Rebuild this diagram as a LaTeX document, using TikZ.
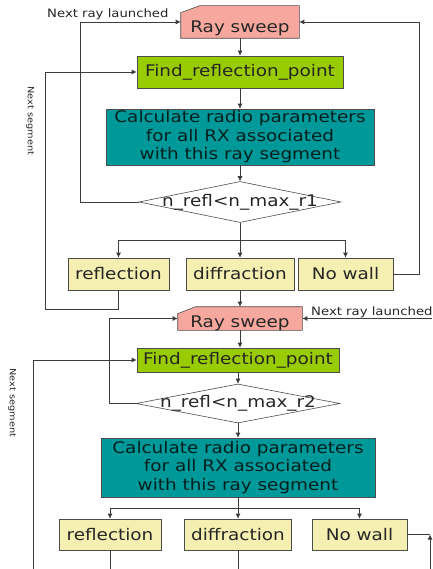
\documentclass[tikz,border=0pt]{standalone}
\usepackage{fontspec}
\newfontfamily\boxfont[FakeStretch=1.15]{DejaVu Sans}
\usetikzlibrary{shapes.geometric,arrows.meta,backgrounds}
\definecolor{raypink}{RGB}{246,168,158}
\definecolor{findgreen}{RGB}{153,204,0}
\definecolor{calcteal}{RGB}{0,153,153}
\definecolor{wallyellow}{RGB}{245,240,178}
\definecolor{linegray}{RGB}{60,60,60}

\begin{document}
\begin{tikzpicture}[x=1pt, y=-1pt,
    box/.style={draw=black!70, line width=0.6pt, inner sep=0pt, text=black!85, font=\boxfont\fontsize{16}{18.5}\selectfont},
    ray/.style={box, draw=none},
    find/.style={box, fill=findgreen},
    calc/.style={box, fill=calcteal, align=center, text=black!80!calcteal},
    wall/.style={box, fill=wallyellow},
    cond/.style={box, diamond, fill=white},
    condtext/.style={inner sep=0pt, text=black!85, font=\boxfont\fontsize{16}{18.5}\selectfont},
    note/.style={inner sep=0pt, text=black!85, font=\boxfont\fontsize{11.5}{13}\selectfont},
    side/.style={inner sep=0pt, text=black!85, rotate=-90, font=\boxfont\fontsize{8.5}{10}\selectfont},
    link/.style={draw=linegray, line width=0.7pt},
    arr/.style={link, -{Latex[length=5pt,width=5pt]}}]
    \useasboundingbox (0,0) rectangle (432,569);

    \node[ray, minimum width=118pt, minimum height=32pt, text height=22pt, text depth=0pt] (rs1) at (240,22) {Ray sweep};
    \node[find, minimum width=206pt, minimum height=32pt] (find1) at (240,72) {Find\_reflection\_point};
    \node[calc, minimum width=268pt, minimum height=56pt] (calc1) at (240,137) {Calculate radio parameters\\for all RX associated\\with this ray segment};
    \node[cond, minimum width=202pt, minimum height=41pt, label={[condtext]center:n\_refl<n\_max\_r1}] (d1) at (240,202) {};
    \node[wall, minimum width=101pt, minimum height=32pt] (rf1) at (118.5,274) {reflection};
    \node[wall, minimum width=108pt, minimum height=32pt] (df1) at (240,274) {diffraction};
    \node[wall, minimum width=95pt, minimum height=32pt] (nw1) at (345.5,274) {No wall};

    \node[ray, minimum width=124pt, minimum height=23pt, text height=17pt, text depth=0pt] (rs2) at (240,318.5) {Ray sweep};
    \node[find, minimum width=202pt, minimum height=24pt] (find2) at (238,360) {Find\_reflection\_point};
    \node[cond, minimum width=204pt, minimum height=39pt, label={[condtext]center:n\_refl<n\_max\_r2}] (d2) at (238,403.5) {};
    \node[calc, minimum width=274pt, minimum height=59pt] (calc2) at (238,467.5) {Calculate radio parameters\\for all RX associated\\with this ray segment};
    \node[wall, minimum width=102pt, minimum height=31pt] (rf2) at (110,534.5) {reflection};
    \node[wall, minimum width=107pt, minimum height=31pt] (df2) at (238,534.5) {diffraction};
    \node[wall, minimum width=95pt, minimum height=31pt] (nw2) at (359.5,534.5) {No wall};

    \begin{pgfonlayer}{background}
        \filldraw[fill=raypink, draw=black!70, line width=0.6pt] (rs1.south west) -- ([yshift=-7pt]rs1.north west) -- ([xshift=19pt]rs1.north west) -- (rs1.north east) -- (rs1.south east) -- cycle;
        \filldraw[fill=raypink, draw=black!70, line width=0.6pt] (rs2.south west) -- ([yshift=-7pt]rs2.north west) -- ([xshift=18pt]rs2.north west) -- (rs2.north east) -- (rs2.south east) -- cycle;
    \end{pgfonlayer}

    \node[note, anchor=base west] (nr1) at (47,17.5) {Next ray launched};
    \node[note, anchor=base west] (nr2) at (311,315.5) {Next ray launched};
    \node[side] (ns1) at (30,121) {Next segment};
    \node[side] (ns2) at (12,403) {Next segment};

    \coordinate (j1) at (240,240);
    \coordinate (j2) at (238,508);
    \coordinate (e2) at (432,318.5);
    \coordinate (b1) at (33,569);
    \coordinate (b2) at (430,569);

    \draw[arr] (rs1) -- (find1);
    \draw[arr] (find1) -- (calc1);
    \draw[arr] (calc1) -- (d1);
    \draw[link] (d1) -- (j1);
    \draw[arr] (j1) -| (rf1);
    \draw[arr] (j1) -- (df1);
    \draw[arr] (j1) -| (nw1);
    \draw[arr] (d1.west) -- ++(-58,0) |- (rs1.west);
    \draw[arr] (nw1.east) -- ++(26,0) |- (rs1.east);
    \draw[arr] (rf1.south) -- ++(0,19) -| ([xshift=-91pt]find1.west) -- (find1.west);
    \draw[arr] (df1) -- (rs2);

    \draw[arr] (e2) -- (rs2.east);
    \draw[arr] (rs2) -- (rs2 |- find2.north);
    \draw[arr] (d2.west) -- ++(-26,0) |- (rs2.west);
    \draw[arr] (b1) |- (find2.west);
    \draw[arr] (find2) -- (d2);
    \draw[arr] (d2) -- (calc2);
    \draw[link] (calc2) -- (j2);
    \draw[arr] (j2) -| (rf2);
    \draw[arr] (j2) -- (df2);
    \draw[arr] (j2) -| (nw2);
    \draw[link] (rf2) -- (rf2 |- b1);
    \draw[link] (df2) -- (df2 |- b1);
    \draw[link] (nw2) -- (b2 |- nw2.east);
    \draw[arr] (b2) -- (b2 |- nw2.east);
\end{tikzpicture}
\end{document}
